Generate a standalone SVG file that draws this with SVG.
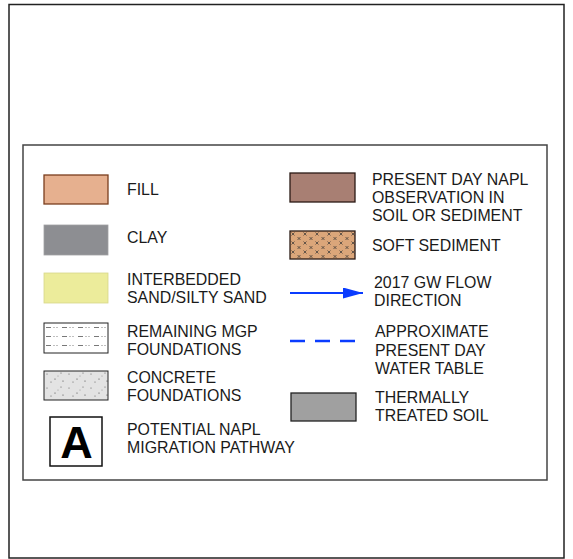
<svg xmlns="http://www.w3.org/2000/svg" width="573" height="559" viewBox="0 0 573 559">
<style>
text{font-family:"Liberation Sans",Arial,sans-serif;font-size:15.9px;fill:#1a1a1a}
.sw{stroke-width:1.3}
</style>
<defs>
<pattern id="mgp" width="16" height="9" patternUnits="userSpaceOnUse" x="44" y="323">
<rect width="16" height="9" fill="#ffffff"/>
<line x1="2" y1="4.5" x2="7" y2="4.5" stroke="#555" stroke-width="0.8"/>
<circle cx="10" cy="4.5" r="0.5" fill="#555"/>
<circle cx="13" cy="4.5" r="0.5" fill="#555"/>
</pattern>
<pattern id="conc" width="22" height="14" patternUnits="userSpaceOnUse" x="44" y="371">
<rect width="22" height="14" fill="#e3e3e3"/>
<circle cx="3" cy="3" r="0.5" fill="#444"/>
<circle cx="11" cy="8" r="0.6" fill="#444"/>
<circle cx="17" cy="2" r="0.5" fill="#444"/>
<circle cx="7" cy="11" r="0.5" fill="#444"/>
<circle cx="19" cy="10" r="0.6" fill="#444"/>
<circle cx="14" cy="5" r="0.4" fill="#444"/>
</pattern>
<pattern id="soft" width="12" height="9" patternUnits="userSpaceOnUse" x="290" y="231">
<rect width="12" height="9" fill="#dba67a"/>
<path d="M1.5 1.5l3 3M4.5 1.5l-3 3M7.5 6l3 3M10.5 6l-3 3" stroke="#333" stroke-width="0.7"/>
</pattern>
<marker id="ah" markerWidth="20" markerHeight="11" refX="20" refY="5.5" orient="auto" markerUnits="userSpaceOnUse">
<path d="M0 0L20 5.5L0 11Z" fill="#0a3cff"/>
</marker>
</defs>
<rect x="9" y="4.5" width="555" height="553.5" fill="#ffffff" stroke="#222" stroke-width="1.5"/>
<rect id="legend" x="23" y="145" width="524" height="335" fill="none" stroke="#444" stroke-width="1.5"/>

<g id="fill">
<rect class="sw" x="44" y="175" width="64" height="29" fill="#e6b08f" stroke="#7a3e1e"/>
<text x="127" y="195">FILL</text>
</g>
<g id="clay">
<rect x="44" y="225" width="64" height="30" fill="#8d8e92" stroke="#a0a0a3" stroke-width="0.8"/>
<text x="127" y="243">CLAY</text>
</g>
<g id="interbedded">
<rect x="44" y="273" width="64" height="30" fill="#ecec9b" stroke="#d8d88a" stroke-width="0.8"/>
<text x="127" y="285">INTERBEDDED</text>
<text x="127" y="303">SAND/SILTY SAND</text>
</g>
<g id="mgp-foundations">
<rect x="44" y="323" width="64" height="30" fill="url(#mgp)" stroke="#222" stroke-width="1"/>
<text x="127" y="337">REMAINING MGP</text>
<text x="127" y="355">FOUNDATIONS</text>
</g>
<g id="concrete">
<rect x="44" y="371" width="64" height="29" fill="url(#conc)" stroke="#222" stroke-width="1"/>
<text x="127" y="383">CONCRETE</text>
<text x="127" y="401">FOUNDATIONS</text>
</g>
<g id="pathway">
<rect x="50" y="417" width="52" height="49" fill="#ffffff" stroke="#111" stroke-width="1.5"/>
<text x="76.5" y="458" text-anchor="middle" style="font-size:45px;font-weight:bold;fill:#000">A</text>
<text x="127" y="435">POTENTIAL NAPL</text>
<text x="127" y="453">MIGRATION PATHWAY</text>
</g>

<g id="napl">
<rect class="sw" x="290" y="173" width="65" height="29" fill="#a87f73" stroke="#2a1a15"/>
<text x="372" y="185">PRESENT DAY NAPL</text>
<text x="372" y="203">OBSERVATION IN</text>
<text x="372" y="221">SOIL OR SEDIMENT</text>
</g>
<g id="soft-sediment">
<rect class="sw" x="290" y="231" width="65" height="28" fill="url(#soft)" stroke="#2a1a15"/>
<text x="372" y="251">SOFT SEDIMENT</text>
</g>
<g id="gw-flow">
<text x="374" y="288">2017 GW FLOW</text>
<text x="374" y="306">DIRECTION</text>
</g>
<g id="water-table">
<text x="375" y="337">APPROXIMATE</text>
<text x="375" y="356">PRESENT DAY</text>
<text x="375" y="374">WATER TABLE</text>
</g>
<g id="thermally">
<rect class="sw" x="291" y="393" width="65" height="28" fill="#a0a0a0" stroke="#222"/>
<text x="375" y="403">THERMALLY</text>
<text x="375" y="421">TREATED SOIL</text>
</g>

<g id="connectors">
<line x1="290" y1="293" x2="363" y2="293" stroke="#0a3cff" stroke-width="2" marker-end="url(#ah)"/>
<line x1="290" y1="341" x2="355" y2="341" stroke="#0a3cff" stroke-width="2.5" stroke-dasharray="15 10"/>
</g>
</svg>
